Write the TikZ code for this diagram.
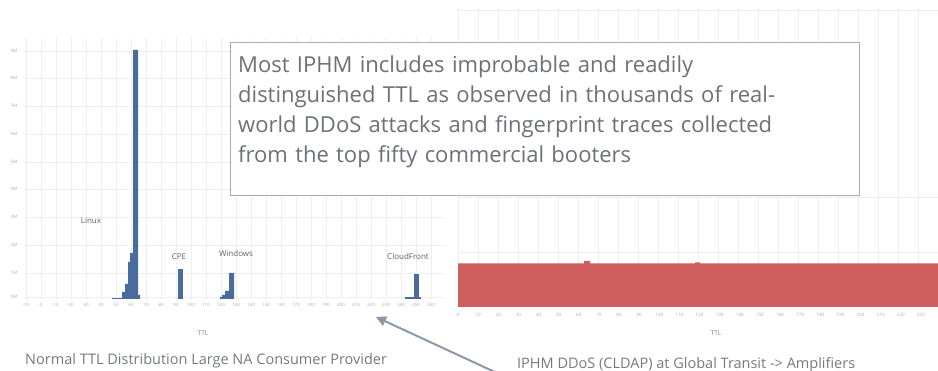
\documentclass[tikz,border=0pt]{standalone}
\usepackage{fontspec}
\setmainfont{Open Sans}
\usepackage{tikz}
\usetikzlibrary{positioning, arrows.meta}

\definecolor{barblue}{HTML}{4A6B9E}
\definecolor{barred}{HTML}{CF5E5E}
\definecolor{txtgrey}{HTML}{5C6168}
\definecolor{gridgrey}{HTML}{EEEEEE}
\definecolor{tickgrey}{HTML}{A8A8A8}
\definecolor{arrowgrey}{HTML}{8A98A8}

\tikzset{
    gridline/.style={gridgrey, line width=0.6pt},
    ticklabel/.style={font=\fontsize{4.5}{5}\selectfont, text=tickgrey, inner sep=0pt},
    oslabel/.style={font=\fontsize{8}{9}\selectfont, text=txtgrey, inner sep=0pt},
    axistitle/.style={font=\fontsize{6.5}{7}\selectfont, text=txtgrey!80, inner sep=0pt},
    caption/.style={font=\fontsize{14.5}{16}\selectfont, text=txtgrey!85, inner sep=0pt},
    notebox/.style={draw=arrowgrey!80, line width=0.8pt, fill=white, inner sep=0pt,
        minimum width=629pt, minimum height=153pt, anchor=north west},
    notetext/.style={align=left, font=\fontsize{22}{30}\selectfont, text=txtgrey!90,
        inner sep=0pt, anchor=north west, text width=613pt}
}

\begin{document}
\begin{tikzpicture}[x=1pt, y=-1pt]
    \useasboundingbox (0,0) rectangle (938,371);
    \clip (0,0) rectangle (938,371);

    % left chart grid
    \foreach \t in {-10,0,...,260}
        \draw[gridline] ({41+1.5*\t},38) -- ({41+1.5*\t},300);
    \foreach \y/\l in {51/9M,78/8M,106/7M,134/6M,162/5M,189/4M,217/3M,245/2M,273/1M,297/0M} {
        \draw[gridline] (25,\y) -- (445,\y);
        \node[ticklabel] at (14,\y) {\l};
    }
    \foreach \t in {-10,0,...,260}
        \node[ticklabel] at ({41+1.5*\t},305) {\t};

    % right chart grid
    \foreach \x in {458,478,...,938}
        \draw[gridline] (\x,8) -- (\x,307);
    \foreach \y in {10,197,252}
        \draw[gridline] (458,\y) -- (938,\y);

    % left chart bars
    \fill[barblue] (112,299) rectangle (122,298);
    \fill[barblue] (122,299) -- (122,292) -- (125,292) -- (125,284) -- (128,284)
        -- (128,262) -- (130,262) -- (130,253) -- (133,253) -- (133,50) -- (138,50)
        -- (138,295) -- (140,295) -- (140,299) -- cycle;
    \fill[barblue] (178,299) rectangle (183,269);
    \fill[barblue] (220,299) -- (220,297) -- (222,297) -- (222,295) -- (225,295)
        -- (225,291) -- (229,291) -- (229,273) -- (234,273) -- (234,299) -- cycle;
    \fill[barblue] (405,299) rectangle (421,297);
    \fill[barblue] (414,299) rectangle (419,274);

    % right chart block
    \fill[barred] (458,307) -- (458,263.5) -- (584,263.5) -- (584,261) -- (590,261)
        -- (590,263.5) -- (695,263.5) -- (695,262.5) -- (700,262.5) -- (700,263.5)
        -- (938,263.5) -- (938,307) -- cycle;
    \foreach \t in {0,10,...,230}
        \node[ticklabel] at ({458+2.013*\t},315) {\t};

    % labels
    \node[oslabel] (linux) at (91,221) {Linux};
    \node[oslabel] (cpe) at (179,257) {CPE};
    \node[oslabel] (windows) at (236,254) {Windows};
    \node[oslabel] (cloudfront) at (408,257) {CloudFront};
    \node[axistitle] (ttlleft) at (203,333) {TTL};
    \node[axistitle] (ttlright) at (716,333) {TTL};
    \node[caption, anchor=west] (capleft) at (25,361) {Normal TTL Distribution Large NA Consumer Provider};
    \node[caption, anchor=west] (capright) at (517,365) {IPHM DDoS (CLDAP) at Global Transit -> Amplifiers};

    \node[notebox] (note) at (230,42) {};
    \node[notetext] (notetxt) at ([shift={(8pt,-14pt)}]note.north west) {Most IPHM includes improbable and readily\\
        distinguished TTL as observed in thousands of real-\\
        world DDoS attacks and fingerprint traces collected\\
        from the top fifty commercial booters};

    % pointer
    \coordinate (tail) at (497,373);
    \coordinate (tip) at (376,317);
    \draw[arrowgrey, line width=2pt, -{Triangle[length=10pt, width=10pt]}] (tail) -- (tip);
\end{tikzpicture}
\end{document}
